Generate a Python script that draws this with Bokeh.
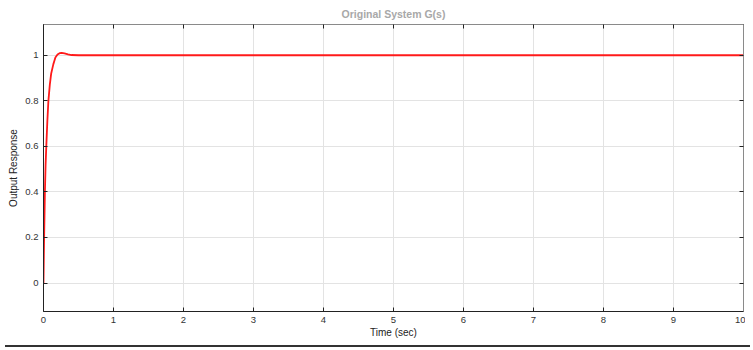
from bokeh.plotting import figure
from bokeh.models import Range1d, LinearAxis, FixedTicker, Div
from bokeh.layouts import column
from bokeh.embed import file_html
from bokeh.resources import INLINE

# Step response
time_s = [0, 0.005, 0.01, 0.02, 0.03, 0.04, 0.055, 0.07, 0.09, 0.11, 0.14,
          0.17, 0.2, 0.23, 0.26, 0.3, 0.35, 0.4, 0.5, 0.6, 1.0, 2.0, 5.0, 10.0]
response = [0, 0.12, 0.22, 0.4, 0.52, 0.6, 0.71, 0.8, 0.87, 0.92, 0.96,
            0.99, 1.003, 1.009, 1.01, 1.008, 1.004, 1.001, 1.0, 1.0, 1.0, 1.0, 1.0, 1.0]

x_ticks = [0, 1, 2, 3, 4, 5, 6, 7, 8, 9, 10]
y_ticks = [0, 0.2, 0.4, 0.6, 0.8, 1]
y_tick_labels = ["0", "0.2", "0.4", "0.6", "0.8", "1"]

FONT = "Liberation Sans"

p = figure(width=745, height=340, output_backend="svg", toolbar_location=None,
           x_range=Range1d(0, 10), y_range=Range1d(-0.125, 1.135),
           min_border_left=43, min_border_right=2, min_border_top=24,
           min_border_bottom=28, x_axis_label="Time (sec)",
           y_axis_label="Output Response")

p.title.text = "Original System G(s)"
p.title.align = "center"
p.title.text_font = FONT
p.title.text_font_size = "10.5px"
p.title.text_color = "#a8a8a8"
p.title.text_font_style = "bold"
p.title.standoff = 9

p.outline_line_color = "#8a8a8a"
p.background_fill_color = "white"
p.border_fill_color = "white"

for ax in p.xaxis + p.yaxis:
    ax.axis_line_color = "#222222"
    ax.major_tick_line_color = "#222222"
    ax.major_tick_in = 4
    ax.major_tick_out = 0
    ax.minor_tick_line_color = None
    ax.major_label_text_font = FONT
    ax.major_label_text_font_size = "9.5px"
    ax.major_label_text_color = "#333333"
    ax.axis_label_text_font = FONT
    ax.axis_label_text_font_size = "10px"
    ax.axis_label_text_font_style = "normal"
    ax.axis_label_text_color = "#222222"
    ax.major_label_standoff = 5

p.xaxis.ticker = FixedTicker(ticks=x_ticks)
p.yaxis.ticker = FixedTicker(ticks=y_ticks)
p.yaxis.major_label_overrides = {t: l for t, l in zip(y_ticks, y_tick_labels)}
p.xaxis.major_label_standoff = 5
p.xaxis.axis_label_standoff = 1
p.yaxis.axis_label_standoff = 3

# ticks on top and right (labels not drawn)
top = LinearAxis(ticker=FixedTicker(ticks=x_ticks), major_label_text_color=None,
                 major_label_text_font_size="1px",
                 axis_line_color="#8a8a8a", major_tick_line_color="#222222",
                 major_tick_in=4, major_tick_out=0, minor_tick_line_color=None,
                 major_label_standoff=0)
right = LinearAxis(ticker=FixedTicker(ticks=y_ticks), major_label_text_color=None,
                   major_label_text_font_size="1px",
                   axis_line_color="#8a8a8a", major_tick_line_color="#222222",
                   major_tick_in=4, major_tick_out=0, minor_tick_line_color=None,
                   major_label_standoff=0)
p.add_layout(top, "above")
p.add_layout(right, "right")

p.xgrid.ticker = FixedTicker(ticks=x_ticks)
p.ygrid.ticker = FixedTicker(ticks=y_ticks)
p.grid.grid_line_color = "#e3e3e3"
p.grid.grid_line_width = 1

p.line(time_s, response, line_color="#ff1a1a", line_width=1.8)

bar = Div(width=745, height=2, styles={"background-color": "#333333"})

layout = column(p, bar, spacing=0)
open("out.html", "w").write(file_html(layout, INLINE))
